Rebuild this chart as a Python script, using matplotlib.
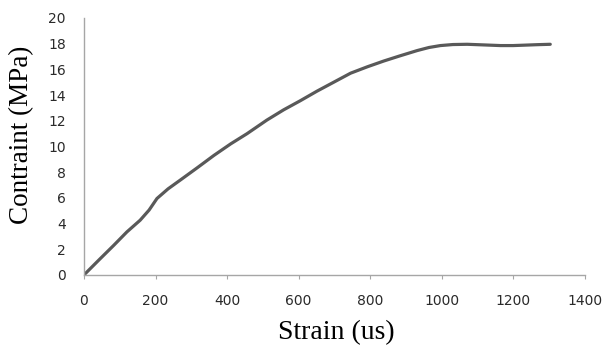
import matplotlib
matplotlib.use("Agg")
from matplotlib import pyplot as plt

strain = [0, 43, 83, 120, 157, 182, 204, 235, 270, 317, 363, 410, 456, 511, 558, 604, 651, 698, 745, 792, 838, 883, 931, 964, 996, 1031, 1071, 1118, 1164, 1199, 1229, 1267, 1303]
stress = [0, 1.2, 2.3, 3.35, 4.26, 5.05, 5.95, 6.7, 7.4, 8.35, 9.3, 10.2, 11.0, 12.05, 12.85, 13.55, 14.3, 15.0, 15.7, 16.2, 16.65, 17.05, 17.46, 17.7, 17.85, 17.93, 17.95, 17.9, 17.85, 17.85, 17.88, 17.92, 17.95]

xticks = [0, 200, 400, 600, 800, 1000, 1200, 1400]
yticks = [0, 2, 4, 6, 8, 10, 12, 14, 16, 18, 20]

fig = plt.figure(figsize=(6.04, 3.45), dpi=100)
ax = fig.add_axes([0.139, 0.203, 0.8295, 0.745])

ax.plot(strain, stress, color='#595959', linewidth=2.3, solid_joinstyle='round', solid_capstyle='round')

ax.set_xlim(0, 1400)
ax.set_ylim(0, 20)
ax.set_xticks(xticks)
ax.set_yticks(yticks)

for s in ['top', 'right']:
    ax.spines[s].set_visible(False)
for s in ['left', 'bottom']:
    ax.spines[s].set_color('#a6a6a6')
    ax.spines[s].set_linewidth(1)

ax.tick_params(axis='x', length=3, color='#a6a6a6', labelsize=10, labelcolor='#2a2a2a', pad=11)
ax.tick_params(axis='y', length=0, labelsize=10, labelcolor='#2a2a2a', pad=13)

ax.set_xlabel('Strain (us)', family='Liberation Serif', fontsize=20)
ax.set_ylabel('Contraint (MPa)', family='Liberation Serif', fontsize=19.5)
ax.xaxis.set_label_coords(0.503, -0.175)
ax.yaxis.set_label_coords(-0.1, 0.545)

fig.savefig('out.png', dpi=100)
